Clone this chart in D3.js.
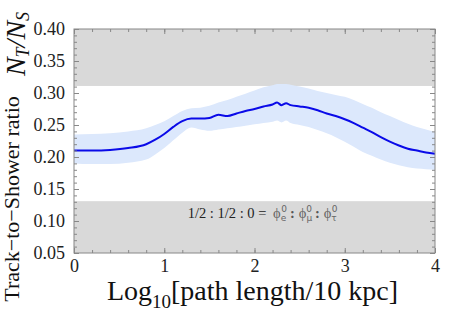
<!DOCTYPE html>
<html>
<head>
<meta charset="utf-8">
<script src="https://cdnjs.cloudflare.com/ajax/libs/d3/7.8.5/d3.min.js"></script>
<style>
  body { margin: 0; background: #fff; }
</style>
</head>
<body>
<div id="chart"></div>
<script>
// values
var pathLog = [0, 0.2, 0.4, 0.6, 0.8, 0.9, 1.0, 1.1, 1.2, 1.3, 1.4, 1.5, 1.6, 1.7, 1.8, 1.9, 2.0, 2.1, 2.2, 2.25, 2.3, 2.35, 2.4, 2.5, 2.6, 2.7, 2.8, 2.9, 3.0, 3.1, 3.2, 3.3, 3.4, 3.5, 3.6, 3.7, 3.8, 3.9, 4.0];
var ratioMid = [0.210, 0.210, 0.211, 0.214, 0.220, 0.227, 0.236, 0.247, 0.256, 0.260, 0.260, 0.261, 0.266, 0.264, 0.268, 0.272, 0.275, 0.279, 0.282, 0.285, 0.281, 0.284, 0.281, 0.279, 0.277, 0.273, 0.268, 0.264, 0.259, 0.253, 0.246, 0.239, 0.231, 0.224, 0.218, 0.213, 0.210, 0.207, 0.205];
var ratioHi = [0.235, 0.236, 0.237, 0.240, 0.245, 0.250, 0.256, 0.264, 0.272, 0.276, 0.277, 0.280, 0.285, 0.289, 0.294, 0.299, 0.304, 0.309, 0.312, 0.314, 0.314, 0.314, 0.313, 0.310, 0.307, 0.303, 0.300, 0.297, 0.294, 0.289, 0.283, 0.277, 0.270, 0.264, 0.258, 0.252, 0.247, 0.243, 0.239];
var ratioLo = [0.190, 0.189, 0.189, 0.191, 0.196, 0.204, 0.214, 0.226, 0.238, 0.246, 0.243, 0.241, 0.243, 0.245, 0.247, 0.249, 0.251, 0.253, 0.255, 0.257, 0.254, 0.257, 0.253, 0.250, 0.247, 0.242, 0.237, 0.231, 0.224, 0.216, 0.208, 0.202, 0.196, 0.191, 0.187, 0.184, 0.182, 0.181, 0.180];
var excludedBands = [[0.311, 0.40], [0.05, 0.131]];
var xTicks = [0, 1, 2, 3, 4];
var yTicks = [0.05, 0.10, 0.15, 0.20, 0.25, 0.30, 0.35, 0.40];

var SERIF = "Liberation Serif, serif";
var W = 463, H = 320;
var margin = {left: 74, right: 28, top: 29, bottom: 67};
var iw = W - margin.left - margin.right;
var ih = H - margin.top - margin.bottom;

var svg = d3.select("#chart").append("svg").attr("width", W).attr("height", H)
  .attr("font-family", SERIF);
var g = svg.append("g").attr("transform", "translate(" + margin.left + "," + margin.top + ")");

var x = d3.scaleLinear().domain([0, 4]).range([0, iw]);
var y = d3.scaleLinear().domain([0.05, 0.40]).range([ih, 0]);

// grey excluded regions
g.selectAll(".band").data(excludedBands).enter().append("rect")
  .attr("x", 0).attr("width", iw)
  .attr("y", function(d) { return y(d[1]); })
  .attr("height", function(d) { return y(d[0]) - y(d[1]); })
  .attr("fill", "#d9d9d9");

var pts = pathLog.map(function(v, i) { return {x: v, m: ratioMid[i], lo: ratioLo[i], hi: ratioHi[i]}; });

g.append("path").datum(pts)
  .attr("fill", "#dce8fc")
  .attr("d", d3.area().curve(d3.curveMonotoneX)
    .x(function(d) { return x(d.x); })
    .y0(function(d) { return y(d.lo); })
    .y1(function(d) { return y(d.hi); }));

g.append("path").datum(pts)
  .attr("fill", "none").attr("stroke", "#0a0ae8").attr("stroke-width", 2)
  .attr("d", d3.line().curve(d3.curveMonotoneX)
    .x(function(d) { return x(d.x); })
    .y(function(d) { return y(d.m); }));

// axes, ticks pointing inward on all four sides
var frameCol = "#888";
function styleAxis(sel) {
  sel.attr("font-family", SERIF).attr("font-size", 18);
  sel.select(".domain").remove();
  sel.selectAll("line").attr("stroke", frameCol);
  sel.selectAll("text").attr("fill", "#222");
}
var xMinor = d3.range(0, 4.001, 0.2);
var yMinor = d3.range(0.05, 0.4001, 0.01);

g.append("g").attr("transform", "translate(0," + ih + ")")
  .call(d3.axisBottom(x).tickValues(xMinor).tickSize(-3).tickFormat("")).call(styleAxis);
g.append("g").attr("transform", "translate(0," + ih + ")")
  .call(d3.axisBottom(x).tickValues(xTicks).tickSize(-5).tickPadding(6).tickFormat(d3.format("d"))).call(styleAxis);
g.append("g")
  .call(d3.axisTop(x).tickValues(xMinor).tickSize(-3).tickFormat("")).call(styleAxis);
g.append("g")
  .call(d3.axisTop(x).tickValues(xTicks).tickSize(-5).tickFormat("")).call(styleAxis);

g.append("g")
  .call(d3.axisLeft(y).tickValues(yMinor).tickSize(-3).tickFormat("")).call(styleAxis);
g.append("g")
  .call(d3.axisLeft(y).tickValues(yTicks).tickSize(-5).tickPadding(9).tickFormat(d3.format(".2f"))).call(styleAxis);
g.append("g").attr("transform", "translate(" + iw + ",0)")
  .call(d3.axisRight(y).tickValues(yMinor).tickSize(-3).tickFormat("")).call(styleAxis);
g.append("g").attr("transform", "translate(" + iw + ",0)")
  .call(d3.axisRight(y).tickValues(yTicks).tickSize(-5).tickFormat("")).call(styleAxis);

g.append("rect").attr("width", iw).attr("height", ih)
  .attr("fill", "none").attr("stroke", frameCol).attr("stroke-width", 1);

// flavour ratio note
var note = g.append("text").attr("x", x(1.26)).attr("y", y(0.104))
  .attr("font-size", 14.5).attr("fill", "#222");
note.append("tspan").text("1/2 : 1/2 : 0 = ");
var flav = ["e", "\u03bc", "\u03c4"];
flav.forEach(function(f, i) {
  note.append("tspan").attr("fill", "#666").attr("dx", i ? 4 : 3).text("\u03d5");
  note.append("tspan").attr("fill", "#666").attr("dy", 3).attr("font-size", 9)
    .attr("font-family", "DejaVu Sans").text(f);
  note.append("tspan").attr("fill", "#666").attr("dy", -9).attr("dx", i == 1 ? -6 : -5).attr("font-size", 9)
    .attr("font-family", "DejaVu Sans").text("0");
  note.append("tspan").attr("dy", 6).attr("dx", 3).attr("fill", "#555").attr("font-weight", "bold").text(i < 2 ? ":" : "");
});

// axis titles
var xl = svg.append("text").attr("x", margin.left + iw / 2 - 2).attr("y", 300)
  .attr("text-anchor", "middle").attr("font-size", 28).attr("fill", "#111");
xl.append("tspan").text("Log");
xl.append("tspan").attr("dy", 8).attr("font-size", 19).text("10");
xl.append("tspan").attr("dy", -8).text("[path length/10 kpc]");

svg.append("text").attr("transform", "translate(19,199) rotate(-90)")
  .attr("text-anchor", "middle").attr("font-size", 22).attr("fill", "#111")
  .text("Track\u2212to\u2212Shower ratio");

var nl = svg.append("text").attr("transform", "translate(25,44) rotate(-90)")
  .attr("text-anchor", "middle").attr("font-size", 28).attr("font-style", "italic").attr("fill", "#111");
nl.append("tspan").text("N");
nl.append("tspan").attr("dy", 4).attr("font-size", 18).text("T");
nl.append("tspan").attr("dy", -4).text("/N");
nl.append("tspan").attr("dy", 4).attr("font-size", 18).text("S");
</script>
</body>
</html>
